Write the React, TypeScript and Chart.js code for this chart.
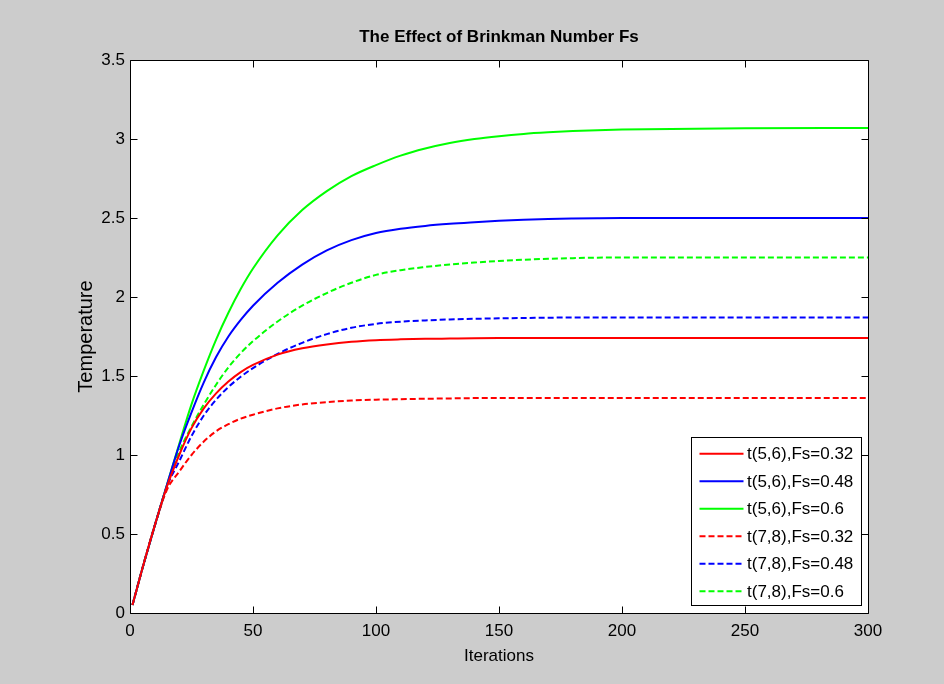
import React, { useEffect, useRef } from "react";
import { Chart, registerables } from "chart.js";

Chart.register(...registerables);

// ---------- data ----------
const iterations = [1, 5, 10, 15, 20, 25, 30, 35, 40, 45, 50, 60, 70, 80, 90, 100, 110, 120, 130, 140, 150, 160, 170, 180, 190, 200, 250, 300];

const t56Fs032 = [0.05, 0.28, 0.55, 0.8, 1.0, 1.17, 1.295, 1.39, 1.465, 1.525, 1.57, 1.635, 1.675, 1.7, 1.717, 1.727, 1.732, 1.735, 1.737, 1.739, 1.74, 1.74, 1.74, 1.74, 1.74, 1.74, 1.74, 1.74];
const t56Fs048 = [0.05, 0.28, 0.55, 0.81, 1.06, 1.27, 1.46, 1.62, 1.75, 1.855, 1.945, 2.09, 2.205, 2.295, 2.36, 2.405, 2.432, 2.45, 2.463, 2.473, 2.482, 2.489, 2.494, 2.497, 2.499, 2.5, 2.5, 2.5];
const t56Fs060 = [0.05, 0.28, 0.55, 0.81, 1.07, 1.32, 1.535, 1.73, 1.9, 2.05, 2.18, 2.39, 2.55, 2.67, 2.765, 2.835, 2.895, 2.94, 2.975, 3.0, 3.018, 3.032, 3.042, 3.05, 3.056, 3.06, 3.068, 3.07];
const t78Fs032 = [0.05, 0.28, 0.55, 0.78, 0.895, 1.0, 1.085, 1.15, 1.195, 1.23, 1.255, 1.295, 1.32, 1.335, 1.345, 1.35, 1.353, 1.356, 1.358, 1.36, 1.36, 1.36, 1.36, 1.36, 1.36, 1.36, 1.36, 1.36];
const t78Fs048 = [0.05, 0.28, 0.55, 0.8, 0.96, 1.12, 1.25, 1.35, 1.43, 1.495, 1.55, 1.64, 1.71, 1.765, 1.805, 1.83, 1.844, 1.852, 1.858, 1.862, 1.865, 1.867, 1.869, 1.87, 1.87, 1.87, 1.87, 1.87];
const t78Fs060 = [0.05, 0.28, 0.55, 0.8, 1.02, 1.18, 1.32, 1.445, 1.555, 1.645, 1.72, 1.845, 1.945, 2.025, 2.09, 2.14, 2.17, 2.19, 2.206, 2.218, 2.228, 2.236, 2.242, 2.246, 2.249, 2.25, 2.25, 2.25];

const seriesLabels = [
  "t(5,6),Fs=0.32",
  "t(5,6),Fs=0.48",
  "t(5,6),Fs=0.6",
  "t(7,8),Fs=0.32",
  "t(7,8),Fs=0.48",
  "t(7,8),Fs=0.6",
];
const seriesValues = [t56Fs032, t56Fs048, t56Fs060, t78Fs032, t78Fs048, t78Fs060];
const seriesColors = ["#ff0000", "#0000ff", "#00ff00", "#ff0000", "#0000ff", "#00ff00"];
const seriesDashed = [false, false, false, true, true, true];

const xTicks = [0, 50, 100, 150, 200, 250, 300];
const yTicks = [0, 0.5, 1, 1.5, 2, 2.5, 3, 3.5];

const titleText = "The Effect of Brinkman Number Fs";
const xTitle = "Iterations";
const yTitle = "Temperature";

const FONT = "'Liberation Sans', Arial, Helvetica, sans-serif";
const DASH = [6, 3];

// white plot background
const plotBgPlugin = {
  id: "plotBg",
  beforeDraw(chart: any) {
    const { ctx, chartArea: a } = chart;
    ctx.save();
    ctx.fillStyle = "#ffffff";
    ctx.fillRect(a.left, a.top, a.right - a.left, a.bottom - a.top);
    ctx.restore();
  },
};

// MATLAB-style frame, inward ticks on all sides, and legend box
const framePlugin = {
  id: "matlabFrame",
  afterDatasetsDraw(chart: any) {
    const { ctx, chartArea: a, scales } = chart;
    const xs = scales.x;
    const ys = scales.y;
    const L = Math.round(a.left) + 0.5;
    const R = Math.round(a.right) + 0.5;
    const T = Math.round(a.top) + 0.5;
    const B = Math.round(a.bottom) + 0.5;
    const tl = 7;
    ctx.save();
    ctx.strokeStyle = "#000000";
    ctx.lineWidth = 1;
    ctx.setLineDash([]);
    ctx.beginPath();
    ctx.rect(L, T, R - L, B - T);
    xTicks.forEach((v) => {
      const px = Math.round(xs.getPixelForValue(v)) + 0.5;
      ctx.moveTo(px, B);
      ctx.lineTo(px, B - tl);
      ctx.moveTo(px, T);
      ctx.lineTo(px, T + tl);
    });
    yTicks.forEach((v) => {
      const py = Math.round(ys.getPixelForValue(v)) + 0.5;
      ctx.moveTo(L, py);
      ctx.lineTo(L + tl, py);
      ctx.moveTo(R, py);
      ctx.lineTo(R - tl, py);
    });
    ctx.stroke();

    // legend
    const bw = 170;
    const bh = 168;
    const bx = Math.round(a.right - 7 - bw) + 0.5;
    const by = Math.round(a.bottom - 8 - bh) + 0.5;
    ctx.fillStyle = "#ffffff";
    ctx.fillRect(bx, by, bw, bh);
    ctx.strokeRect(bx, by, bw, bh);
    ctx.font = `17px ${FONT}`;
    ctx.textBaseline = "middle";
    ctx.textAlign = "left";
    chart.data.datasets.forEach((ds: any, i: number) => {
      const cy = by + 16.3 + i * 27.5;
      ctx.save();
      ctx.strokeStyle = ds.borderColor;
      ctx.lineWidth = 2;
      ctx.setLineDash(ds.borderDash || []);
      ctx.beginPath();
      ctx.moveTo(bx + 8, cy);
      ctx.lineTo(bx + 52, cy);
      ctx.stroke();
      ctx.restore();
      ctx.fillStyle = "#000000";
      ctx.fillText(ds.label, bx + 55.5, cy + 1);
    });
    ctx.restore();
  },
};

export default function App() {
  const canvasRef = useRef<HTMLCanvasElement | null>(null);

  useEffect(() => {
    document.body.style.margin = "0";
    const canvas = canvasRef.current;
    if (!canvas) return;

    const datasets = seriesLabels.map((label, i) => ({
      label,
      data: iterations.map((x, j) => ({ x, y: seriesValues[i][j] })),
      borderColor: seriesColors[i],
      backgroundColor: seriesColors[i],
      borderWidth: 2,
      borderDash: seriesDashed[i] ? DASH : [],
      pointRadius: 0,
      fill: false,
      cubicInterpolationMode: "monotone" as const,
    }));

    const chart = new Chart(canvas, {
      type: "line",
      data: { datasets },
      plugins: [plotBgPlugin, framePlugin],
      options: {
        animation: false,
        responsive: false,
        devicePixelRatio: 1,
        layout: { padding: { left: 74, right: 76, top: 0, bottom: 17 } },
        plugins: {
          legend: { display: false },
          tooltip: { enabled: false },
          title: {
            display: true,
            fullSize: false,
            text: titleText,
            color: "#000000",
            font: { family: FONT, size: 17, weight: "bold", lineHeight: 1.2 },
            padding: { top: 26.8, bottom: 12.8 },
          },
        },
        scales: {
          x: {
            type: "linear",
            min: 0,
            max: 300,
            afterFit: (s: any) => {
              s.height = 54;
            },
            afterBuildTicks: (s: any) => {
              s.ticks = xTicks.map((v) => ({ value: v }));
            },
            grid: { display: false, drawTicks: false },
            border: { display: false },
            ticks: {
              color: "#000000",
              font: { family: FONT, size: 17 },
              padding: 8,
              maxRotation: 0,
              callback: (v: any) => String(Number(v)),
            },
            title: {
              display: true,
              text: xTitle,
              color: "#000000",
              font: { family: FONT, size: 17, lineHeight: 1.2 },
              padding: 0,
            },
          },
          y: {
            type: "linear",
            min: 0,
            max: 3.5,
            afterFit: (s: any) => {
              s.width = 56;
            },
            afterBuildTicks: (s: any) => {
              s.ticks = yTicks.map((v) => ({ value: v }));
            },
            grid: { display: false, drawTicks: false },
            border: { display: false },
            ticks: {
              color: "#000000",
              font: { family: FONT, size: 17 },
              padding: 5,
              callback: (v: any) => String(Number(v)),
            },
            title: {
              display: true,
              text: yTitle,
              color: "#000000",
              font: { family: FONT, size: 20, lineHeight: 1.2 },
              padding: 0,
            },
          },
        },
      },
    });

    return () => {
      chart.destroy();
    };
  }, []);

  return (
    <div style={{ width: 944, height: 684, background: "#cccccc", position: "relative" }}>
      <canvas ref={canvasRef} width={944} height={684} style={{ display: "block" }} />
    </div>
  );
}
